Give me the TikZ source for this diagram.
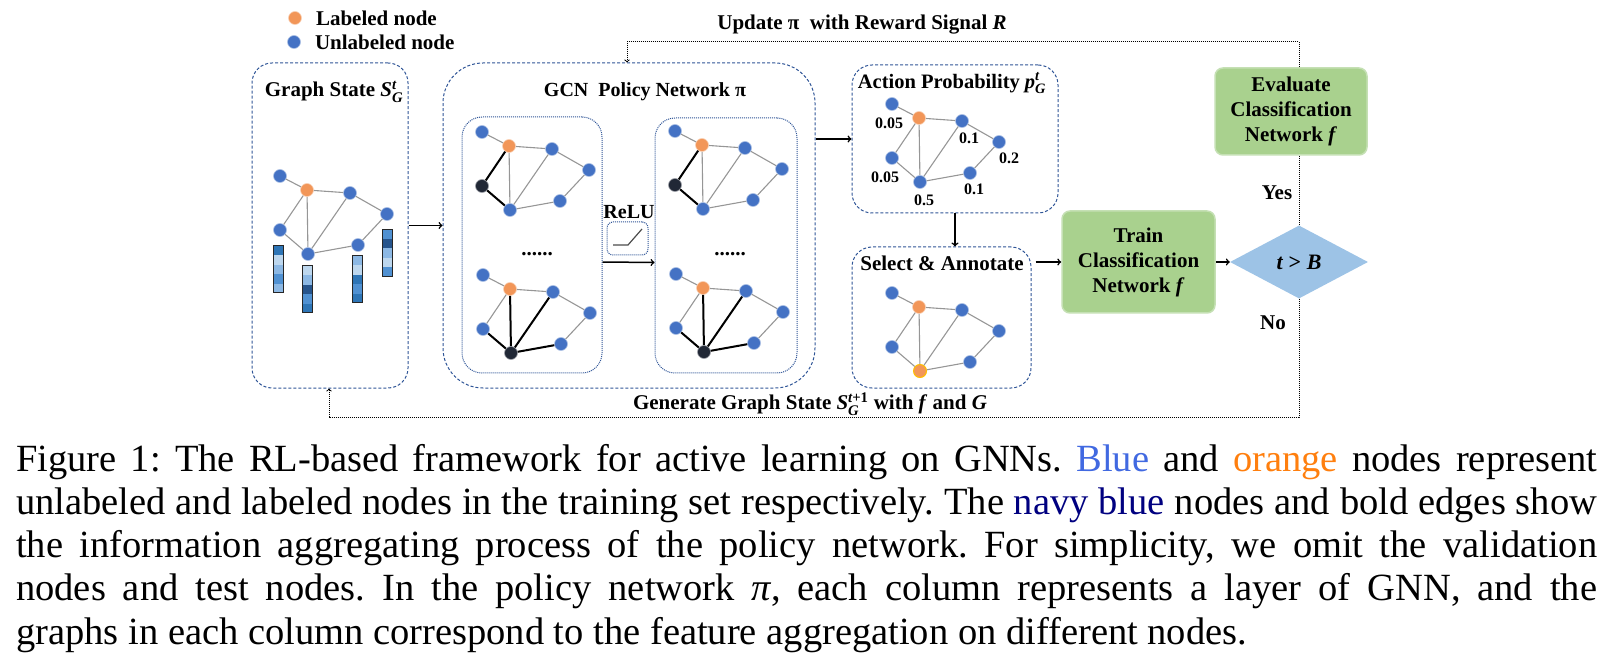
\documentclass[tikz,border=0pt]{standalone}
\usepackage{amsmath}
\usepackage{fontspec}
\setmainfont{Liberation Serif}
\usepackage{tikz}
\usetikzlibrary{arrows,shapes,positioning}

\definecolor{nodeblue}{RGB}{68,114,196}
\definecolor{nodeorange}{RGB}{242,150,88}
\definecolor{nodenavy}{RGB}{33,40,54}
\definecolor{selyellow}{RGB}{255,192,0}
\definecolor{boxblue}{RGB}{47,85,151}
\definecolor{boxgreen}{RGB}{169,209,142}
\definecolor{greenline}{RGB}{197,224,180}
\definecolor{diamondblue}{RGB}{157,195,230}
\definecolor{edgegray}{RGB}{150,150,150}
\definecolor{capblue}{RGB}{65,105,225}
\definecolor{caporange}{RGB}{255,127,14}
\definecolor{capnavy}{RGB}{0,0,128}
\definecolor{featA}{RGB}{189,215,238}
\definecolor{featB}{RGB}{140,184,228}
\definecolor{featC}{RGB}{80,145,210}
\definecolor{featD}{RGB}{46,117,182}
\definecolor{featE}{RGB}{38,84,140}

\tikzset{
    txt/.style={font=\fontsize{21}{25}\selectfont\bfseries, inner sep=1pt, align=center},
    prob/.style={font=\fontsize{16}{18}\selectfont\bfseries, inner sep=0pt},
    dot/.style={circle, fill=nodeblue, draw=white!55!nodeblue, line width=0.6pt,
        inner sep=0pt, minimum size=13pt},
    labeled/.style={fill=nodeorange, draw=white!55!nodeorange},
    link/.style={draw=edgegray, line width=1.1pt},
    bold/.style={draw=black, line width=2pt},
    dashbox/.style={draw=boxblue, line width=1pt, dash pattern=on 3pt off 2pt,
        rounded corners=20pt},
    dotbox/.style={draw=boxblue, line width=1pt, densely dotted,
        rounded corners=20pt},
    greenbox/.style={txt, fill=boxgreen, draw=greenline, line width=1.5pt,
        rounded corners=8pt},
    arr/.style={->, line width=1.5pt},
    fb/.style={->, line width=1pt, densely dotted},
    ne/.style={}, nf/.style={},
    loe/.style={}, lef/.style={}, lof/.style={}, lcf/.style={}, lfg/.style={},
    aggtop/.style={ne/.style={fill=nodenavy, draw=white!55!nodenavy},
        loe/.style={bold}, lef/.style={bold}},
    aggbot/.style={nf/.style={fill=nodenavy, draw=white!55!nodenavy},
        lef/.style={bold}, lof/.style={bold}, lcf/.style={bold}, lfg/.style={bold}},
}

% S or p with sub- and superscript in bold italic text
\newcommand{\gstate}[3]{\textit{#1}$_{\textit{#2}}^{#3}$}

% one small graph: #1 prefix, #2 position of the orange node, #3 extra styles
\newcommand{\toygraph}[3]{%
  \begin{scope}[shift={#2},#3]
    \node[dot] (#1a) at (-27,-14) {};
    \node[dot,labeled] (#1o) at (0,0) {};
    \node[dot] (#1c) at (43,3) {};
    \node[dot] (#1d) at (80,24) {};
    \node[dot,ne] (#1e) at (-27,40) {};
    \node[dot,nf] (#1f) at (1,64) {};
    \node[dot] (#1g) at (51,55) {};
    \draw[link] (#1a) -- (#1o);
    \draw[link] (#1o) -- (#1c);
    \draw[link] (#1c) -- (#1d);
    \draw[link,loe] (#1o) -- (#1e);
    \draw[link,lef] (#1e) -- (#1f);
    \draw[link,lof] (#1o) -- (#1f);
    \draw[link,lcf] (#1c) -- (#1f);
    \draw[link,lfg] (#1f) -- (#1g);
    \draw[link] (#1g) -- (#1d);
  \end{scope}}

\begin{document}
\begin{tikzpicture}[x=1pt, y=-1pt, >=to]
  \useasboundingbox (0,0) rectangle (1607,660);

  % legend
  \node[dot,labeled] (lgl) at (295,18) {};
  \node[dot] (lgu) at (294,42) {};
  \node[txt, right=13pt of lgl] {Labeled node};
  \node[txt, right=13pt of lgu] {Unlabeled node};

  % graph state
  \node[dashbox, minimum width=156pt, minimum height=325pt] (gs) at (330,225.5) {};
  \node[txt] (gstitle) at (334,92) {Graph State \gstate{S}{G}{\textit{t}}};
  \toygraph{s}{(307,190)}{}
  \foreach \bx/\by/\ca/\cb/\cc/\cd/\ce in {273/246/featD/featA/featB/featC/featB,
      302/266/featA/featB/featE/featC/featD,
      352/256/featB/featA/featD/featC/featD,
      382/229.5/featC/featE/featB/featA/featC}{
    \foreach \c [count=\i from 0] in {\ca,\cb,\cc,\cd,\ce}
      \fill[\c] (\bx,\by+\i*9.4) rectangle ++(10,9.4);
    \draw[line width=1pt, black!85] (\bx,\by) rectangle ++(10,47);
  }

  % policy network
  \node[dashbox, minimum width=372pt, minimum height=325pt, rounded corners=40pt] (gcn) at (629,225.5) {};
  \node[txt, font=\fontsize{20}{24}\selectfont\bfseries] (gcntitle) at (645,92) {GCN\ \ Policy Network π};
  \node[dotbox, minimum width=140pt, minimum height=256pt] (lay1) at (532,245) {};
  \node[dotbox, minimum width=142pt, minimum height=255pt] (lay2) at (726,245.5) {};
  \toygraph{u}{(509,146)}{aggtop}
  \toygraph{v}{(510,289)}{aggbot}
  \toygraph{w}{(702,145)}{aggtop}
  \toygraph{x}{(703,288)}{aggbot}
  \node[txt] (more1) at (537,254) {......};
  \node[txt] (more2) at (730,254) {......};
  \node[dotbox, minimum width=41pt, minimum height=33pt, rounded corners=6pt] (relu) at (627.5,238.5) {};
  \node[txt, font=\fontsize{20}{24}\selectfont\bfseries] (relutitle) at (629,212) {ReLU};
  \draw[line width=1.2pt, black!70] ([shift={(-14.5,6.5)}]relu.center) -- ++(15,0) -- ++(14,-16);
  \draw[arr] ([yshift=-17pt]lay1.east) -- ([yshift=-17pt]lay2.west);

  % action probability
  \node[dashbox, minimum width=206pt, minimum height=148pt] (act) at (955,139) {};
  \node[txt, font=\fontsize{20.5}{24}\selectfont\bfseries] (acttitle) at (952,83) {Action Probability \gstate{p}{G}{\textit{t}}};
  \toygraph{p}{(919,118)}{}
  \node[prob] (pa) at (889,123) {0.05};
  \node[prob] (pc) at (969,138) {0.1};
  \node[prob] (pd) at (1009,158) {0.2};
  \node[prob] (pe) at (885,177) {0.05};
  \node[prob] (pg) at (974,189) {0.1};
  \node[prob] (pf) at (924,200) {0.5};

  % select and annotate
  \node[dashbox, minimum width=179pt, minimum height=141pt] (sel) at (941.5,317.5) {};
  \node[txt] (seltitle) at (942,263) {Select \& Annotate};
  \toygraph{q}{(919,307)}{nf/.style={fill=nodeorange, draw=selyellow, line width=1pt}}

  % classifier and check
  \node[greenbox, minimum width=153pt, minimum height=102pt] (train) at (1138.5,262) {Train\\Classification\\Network \textit{f}};
  \node[diamond, aspect=1.9, fill=diamondblue, minimum width=138pt, minimum height=73pt,
      inner sep=0pt, font=\fontsize{22}{25}\selectfont\bfseries] (dec) at (1299,262) {\textit{t} > \textit{B}};

  % arrows
  \draw[arr] (gs.east) -- (gcn.west);
  \draw[arr] (gcn.east |- act.west) -- (act.west);
  \draw[arr] (act.south) -- (act.south |- sel.north);
  \draw[arr, shorten <=4pt] (sel.east |- train.west) -- (train.west);
  \draw[arr] (train.east) -- (dec.west);

  % feedback loops
  \coordinate (upd) at (627,42);
  \coordinate (gen) at (329,417);
  \draw[fb] (dec.north) |- (upd) -- (upd |- gcn.north);
  \draw[fb] (dec.south) |- (gen) -- (gen |- gs.south);
  \node[greenbox, minimum width=152pt, minimum height=87pt] (eval) at (1291,111.5) {Evaluate\\Classification\\Network \textit{f}};
  \node[txt] (updtext) at (862,25) {Update π\ \ with Reward Signal \textit{R}};
  \node[txt] (gentext) at (810,404) {Generate Graph State \gstate{S}{G}{\textit{t}\textup{+1}} with \textit{f} and \textit{G}};
  \node[txt] (yes) at (1277,193) {Yes};
  \node[txt] (no) at (1273,323) {No};

  % caption
  \node[anchor=north west, inner sep=0pt, align=left, font=\fontsize{38.5}{43.2}\selectfont\frenchspacing] (cap) at (16,444) {%
    \makebox[1581pt][s]{Figure 1: The RL-based framework for active learning on GNNs. {\color{capblue}Blue} and {\color{caporange}orange} nodes represent}\\
    \makebox[1581pt][s]{unlabeled and labeled nodes in the training set respectively. The {\color{capnavy}navy blue} nodes and bold edges show}\\
    \makebox[1581pt][s]{the information aggregating process of the policy network. For simplicity, we omit the validation}\\
    \makebox[1581pt][s]{nodes and test nodes. In the policy network {\itshape π}, each column represents a layer of GNN, and the}\\
    graphs in each column correspond to the feature aggregation on different nodes.};
\end{tikzpicture}
\end{document}
